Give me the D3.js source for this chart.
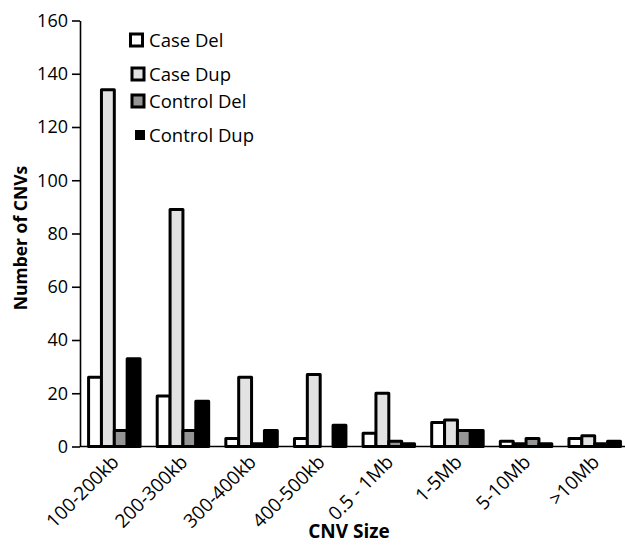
<!DOCTYPE html>
<html>
<head>
<meta charset="utf-8">
<script src="https://cdn.jsdelivr.net/npm/d3@7"></script>
<style>
  html, body { margin: 0; padding: 0; background: #fff; }
  svg { display: block; font-family: "Open Sans", "DejaVu Sans", sans-serif; }
</style>
</head>
<body>
<svg id="chart" width="625" height="549"></svg>
<script>
// ---- data ----
const categories = ["100-200kb", "200-300kb", "300-400kb", "400-500kb", "0.5 - 1Mb", "1-5Mb", "5-10Mb", ">10Mb"];
const seriesNames = ["Case Del", "Case Dup", "Control Del", "Control Dup"];
const caseDel    = [26, 19, 3, 3, 5, 9, 2, 3];
const caseDup    = [134, 89, 26, 27, 20, 10, 1, 4];
const controlDel = [6, 6, 1, 0, 2, 6, 3, 1];
const controlDup = [33, 17, 6, 8, 1, 6, 1, 2];
const yTicks = [0, 20, 40, 60, 80, 100, 120, 140, 160];
const seriesValues = [caseDel, caseDup, controlDel, controlDup];

// ---- styles ----
const fills = ["#ffffff", "#e2e2e2", "#959595", "#000000"];

const svg = d3.select("#chart");
const mLeft = 80, mRight = 629, mTop = 20.5, mBottom = 446.5;

const x0 = d3.scaleBand().domain(categories).range([mLeft, mRight]).paddingInner(0.25).paddingOuter(0.125);
const x1 = d3.scaleBand().domain(seriesNames).range([0, x0.bandwidth()]).padding(0);
const y = d3.scaleLinear().domain([0, 160]).range([mBottom, mTop]);

// bars
const rows = [];
categories.forEach((c, i) => {
  seriesNames.forEach((s, j) => {
    rows.push({ cat: c, ser: s, v: seriesValues[j][i], j });
  });
});

svg.append("g").selectAll("rect")
  .data(rows.filter(d => d.v > 0))
  .join("rect")
  .attr("x", d => x0(d.cat) + x1(d.ser))
  .attr("y", d => y(d.v))
  .attr("width", x1.bandwidth())
  .attr("height", d => y(0) - y(d.v))
  .attr("fill", d => fills[d.j])
  .attr("stroke", "#000")
  .attr("stroke-width", 3)
  .attr("stroke-linejoin", "round");

// y axis
const yAxis = d3.axisLeft(y).tickValues(yTicks).tickSize(8).tickPadding(4).tickSizeOuter(0);
const gy = svg.append("g").attr("transform", `translate(${mLeft},0)`).call(yAxis);
gy.select(".domain").attr("stroke", "#000").attr("stroke-width", 1.6);
gy.selectAll(".tick line").attr("stroke", "#000").attr("stroke-width", 1.6);
gy.selectAll(".tick text").attr("font-size", 18).attr("fill", "#000")
  .attr("font-family", "'Open Sans', sans-serif");

// x axis
const xAxis = d3.axisBottom(x0).tickSize(0).tickSizeOuter(0);
const gx = svg.append("g").attr("transform", `translate(0,${mBottom})`).call(xAxis);
gx.select(".domain").attr("stroke", "#000").attr("stroke-width", 1.6)
  .attr("d", `M${mLeft},0H625`);
gx.selectAll(".tick text")
  .attr("font-size", 19).attr("fill", "#000")
  .attr("font-family", "'Open Sans', sans-serif")
  .attr("text-anchor", "end")
  .attr("x", 0).attr("y", 0).attr("dy", "0.35em")
  .attr("transform", `translate(1,12) rotate(-45)`);

// axis titles
svg.append("text")
  .attr("transform", `translate(27,238) rotate(-90)`)
  .attr("text-anchor", "middle")
  .attr("font-size", 17.5).attr("font-weight", "bold")
  .text("Number of CNVs");

svg.append("text")
  .attr("x", 349).attr("y", 538)
  .attr("text-anchor", "middle")
  .attr("font-size", 19).attr("font-weight", "bold")
  .text("CNV Size");

// legend
const legendY = [40, 74, 101, 135];
const legendBox = [
  { x: 130.5, s: 12 },
  { x: 132, s: 12 },
  { x: 132, s: 12 },
  { x: 135, s: 10 }
];
const lg = svg.append("g");
seriesNames.forEach((name, j) => {
  const b = legendBox[j];
  lg.append("rect")
    .attr("x", b.x).attr("y", legendY[j] - b.s / 2)
    .attr("width", b.s).attr("height", b.s)
    .attr("fill", fills[j]).attr("stroke", "#000").attr("stroke-width", j === 3 ? 0 : 3);
  lg.append("text")
    .attr("x", 149).attr("y", legendY[j]).attr("dy", "0.36em")
    .attr("font-size", 18.5)
    .text(name);
});
</script>
</body>
</html>
